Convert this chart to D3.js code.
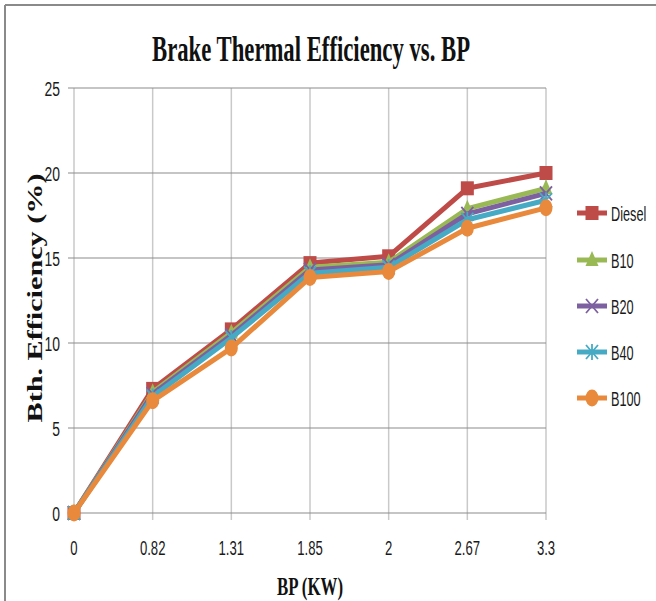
<!DOCTYPE html>
<html><head><meta charset="utf-8">
<script src="https://cdn.jsdelivr.net/npm/d3@7"></script>
<style>body{margin:0;background:#fff}svg{display:block}</style>
</head><body><svg id="c" width="656" height="601"></svg>
<script>
const categories = ["0","0.82","1.31","1.85","2","2.67","3.3"];
const yTicks = [0,5,10,15,20,25];
const seriesNames = ["Diesel","B10","B20","B40","B100"];
const diesel = [0,7.3,10.8,14.7,15.1,19.1,20.0];
const b10    = [0,7.1,10.6,14.45,14.75,17.9,19.1];
const b20    = [0,7.0,10.45,14.3,14.6,17.6,18.8];
const b40    = [0,6.85,10.3,14.1,14.45,17.25,18.4];
const b100   = [0,6.6,9.7,13.85,14.2,16.75,17.95];
const seriesValues = [diesel,b10,b20,b40,b100];
const colors = ["#BE4B48","#98B954","#7D60A0","#46AAC4","#E8893C"];
const markers = ["square","triangle","x","star","ellipse"];

const svg = d3.select("#c");
const x = d3.scalePoint().domain(categories).range([74,546]);
const y = d3.scaleLinear().domain([0,25]).range([513,88]);

// frame
svg.append("line").attr("x1",5).attr("x2",656).attr("y1",5).attr("y2",5).attr("stroke","#8a8a8a").attr("stroke-width",2);
svg.append("line").attr("x1",5).attr("x2",5).attr("y1",5).attr("y2",601).attr("stroke","#8a8a8a").attr("stroke-width",2);

// vertical grid
const g = svg.append("g");
categories.forEach(c=>{
  g.append("line").attr("x1",x(c)).attr("x2",x(c)).attr("y1",y(25)).attr("y2",y(0)+7)
   .attr("stroke","#c9c9c9").attr("stroke-width",1.5);
});
// horizontal grid
yTicks.forEach(t=>{
  g.append("line").attr("x1",x(categories[0])-6).attr("x2",x(categories[categories.length-1])).attr("y1",y(t)).attr("y2",y(t))
   .attr("stroke", "#8c8c8c").attr("stroke-width",1.2);
});
// y tick labels
yTicks.forEach(t=>{
  svg.append("g").attr("transform",`translate(60,${y(t)+7.5}) scale(0.68,1)`)
   .append("text").attr("text-anchor","end").attr("font-family","Liberation Sans, Arial, sans-serif")
   .attr("font-size",20.5).attr("fill","#1a1a1a").text(t);
});
// x tick labels
categories.forEach(c=>{
  svg.append("g").attr("transform",`translate(${x(c)},${555}) scale(0.64,1)`)
   .append("text").attr("text-anchor","middle").attr("font-family","Liberation Sans, Arial, sans-serif")
   .attr("font-size",20.5).attr("fill","#1a1a1a").text(c);
});

function drawMarker(sel, type, color){
  if(type==="square"){
    sel.append("rect").attr("x",-6.5).attr("y",-7).attr("width",13).attr("height",14).attr("fill",color);
  } else if(type==="triangle"){
    sel.append("path").attr("d","M0,-9 L6.5,6 L-6.5,6 Z").attr("fill",color);
  } else if(type==="x"){
    sel.append("path").attr("d","M-6,-7 L6,7 M6,-7 L-6,7").attr("stroke",color).attr("stroke-width",1.8).attr("fill","none");
  } else if(type==="star"){
    sel.append("path").attr("d","M-6,-7 L6,7 M6,-7 L-6,7 M0,-8 L0,8").attr("stroke",color).attr("stroke-width",1.8).attr("fill","none");
  } else {
    sel.append("ellipse").attr("rx",6.5).attr("ry",8.5).attr("fill",color);
  }
}

const line = d3.line().x((d,i)=>x(categories[i])).y(d=>y(d));
seriesValues.forEach((vals,si)=>{
  svg.append("path").datum(vals).attr("d",line).attr("fill","none")
    .attr("stroke",colors[si]).attr("stroke-width",5).attr("stroke-linejoin","round");
  vals.forEach((v,i)=>{
    const m = svg.append("g").attr("transform",`translate(${x(categories[i])},${y(v)})`);
    drawMarker(m, markers[si], colors[si]);
  });
});

// legend
const legY = [213,260,306,352,398];
seriesNames.forEach((n,i)=>{
  const lg = svg.append("g").attr("transform",`translate(0,${legY[i]})`);
  lg.append("line").attr("x1",577).attr("x2",607).attr("y1",0).attr("y2",0).attr("stroke",colors[i]).attr("stroke-width",5);
  const m = lg.append("g").attr("transform","translate(592,0)");
  drawMarker(m, markers[i], colors[i]);
  lg.append("g").attr("transform","translate(611,7.5) scale(0.62,1)")
    .append("text").attr("font-family","Liberation Sans, Arial, sans-serif").attr("font-size",20.5).attr("fill","#1a1a1a").text(n);
});

// title
svg.append("text").attr("x",311).attr("y",61).attr("text-anchor","middle")
  .attr("font-family","Liberation Serif, Times New Roman, serif").attr("font-weight","bold").attr("font-size",36)
  .attr("textLength",318).attr("lengthAdjust","spacingAndGlyphs").attr("fill","#111").text("Brake Thermal Efficiency vs. BP");
// y label
svg.append("text").attr("transform","translate(42,298) rotate(-90)").attr("text-anchor","middle")
  .attr("font-family","Liberation Serif, Times New Roman, serif").attr("font-weight","bold").attr("font-size",22)
  .attr("textLength",249).attr("lengthAdjust","spacingAndGlyphs").attr("fill","#111").text("Bth. Efficiency (%)");
// x label
svg.append("text").attr("x",310).attr("y",595).attr("text-anchor","middle")
  .attr("font-family","Liberation Serif, Times New Roman, serif").attr("font-weight","bold").attr("font-size",25)
  .attr("textLength",66).attr("lengthAdjust","spacingAndGlyphs").attr("fill","#111").text("BP (KW)");
</script></body></html>
